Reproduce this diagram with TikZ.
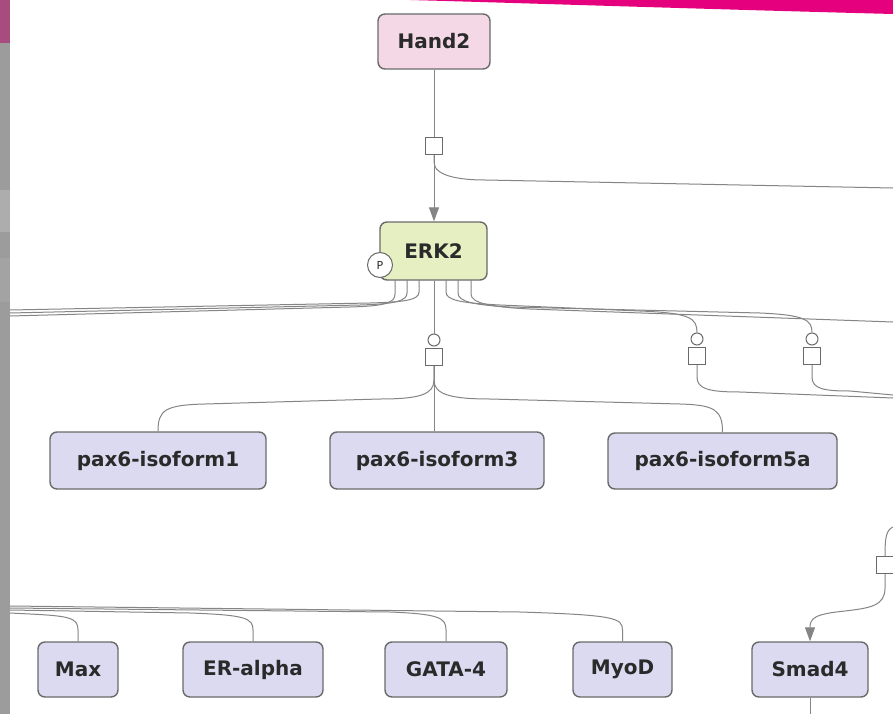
\documentclass[tikz,border=0pt]{standalone}
\usepackage{fontspec}
\setmainfont{DejaVu Sans}
\usetikzlibrary{arrows.meta}
\definecolor{lav}{HTML}{DCDAF0}
\definecolor{pinkf}{HTML}{F5D8E6}
\definecolor{erkf}{HTML}{E6EFC2}
\definecolor{bord}{HTML}{6A6A6A}
\definecolor{linec}{HTML}{858585}
\definecolor{mag}{HTML}{E5007D}
\definecolor{magdull}{HTML}{A84C80}
\definecolor{barg}{HTML}{9C9C9C}
\definecolor{txt}{HTML}{2A2A2A}
\tikzset{
  prot/.style={draw=bord, line width=1.4pt, rounded corners=7pt, fill=lav, text=txt,
    font=\bfseries\fontsize{20}{20}\selectfont, inner sep=0pt},
  proc/.style={draw=bord, line width=1.3pt, fill=white, minimum size=17pt, inner sep=0pt},
  catal/.style={circle, draw=bord, line width=1pt, fill=white, minimum size=12pt, inner sep=0pt},
  conn/.style={draw=linec, line width=1pt},
  arr/.style={-{Triangle[length=14pt,width=10pt]}}
}
\begin{document}
\begin{tikzpicture}[x=1pt,y=-1pt]
\fill[white] (0,0) rectangle (893,714);
\useasboundingbox (0,0) rectangle (893,714);
% screen decoration
\fill[barg] (0,0) rectangle (10,714);
\fill[magdull] (0,0) rectangle (10,43);
\fill[black!32] (0,190) rectangle (10,232);
\fill[black!36] (0,258) rectangle (10,302);
\fill[mag] (410,0) -- (893,0) -- (893,14) .. controls (700,9) and (520,3) .. (410,0) -- cycle;

% nodes
\node[prot, fill=pinkf, minimum width=112pt, minimum height=55pt] (Hand2) at (434,41.5) {Hand2};
\node[prot, fill=erkf, minimum width=107pt, minimum height=58pt] (ERK2) at (433.5,251) {ERK2};
\node[circle, draw=bord, line width=1pt, fill=white, minimum size=25pt, inner sep=0pt,
      text=txt, font=\fontsize{11}{11}\selectfont] (P) at (380,265) {P};
\node[prot, minimum width=216pt, minimum height=57pt] (pax1) at (158,460.5) {pax6-isoform1};
\node[prot, minimum width=214pt, minimum height=57pt] (pax3) at (437,460.5) {pax6-isoform3};
\node[prot, minimum width=229pt, minimum height=56pt] (pax5) at (722.5,461) {pax6-isoform5a};
\node[prot, minimum width=80pt, minimum height=55pt] (Max) at (78,669.5) {Max};
\node[prot, minimum width=140pt, minimum height=55pt] (ERa) at (253,669.5) {ER-alpha};
\node[prot, minimum width=122pt, minimum height=55pt] (GATA) at (446,669.5) {GATA-4};
\node[prot, minimum width=99pt, minimum height=55pt] (MyoD) at (622.5,669.5) {MyoD};
\node[prot, minimum width=116pt, minimum height=55pt] (Smad4) at (810,669.5) {Smad4};

\node[proc] (s1) at (434,146) {};
\node[proc] (s2) at (434,357) {};
\node[proc] (s3) at (697,356) {};
\node[proc] (s4) at (812,356) {};
\node[proc] (s5) at (885,565) {};
\node[catal] (c2) at (434,340) {};
\node[catal] (c3) at (697,339) {};
\node[catal] (c4) at (812,339) {};

% free ends
\coordinate (e1) at (893,188);
\coordinate (eL1) at (10,310);
\coordinate (eL2) at (10,313);
\coordinate (eL3) at (10,316);
\coordinate (eR1) at (893,322);
\coordinate (e3) at (893,398);
\coordinate (e4) at (893,395);
\coordinate (e5) at (893,527);
\coordinate (e6) at (810,714);
\coordinate (b1) at (10,613);
\coordinate (b2) at (10,610);
\coordinate (b3) at (10,608);
\coordinate (b4) at (10,606);

% Hand2 -> ERK2
\draw[conn] (Hand2.south) -- (s1.north);
\draw[conn, arr] (s1.south) -- (s1.south |- ERK2.north);
\draw[conn] (s1.south) -- ++(0,7) .. controls +(0,14) and +(-25,0) .. (485,180) -- (e1);

% ERK2 state stubs to the left
\draw[conn] (419,280) -- (419,292) .. controls (419,300) and (405,302) .. (370,303) -- (eL1);
\draw[conn] (407,280) -- (407,293) .. controls (407,301) and (395,304) .. (360,305) -- (eL2);
\draw[conn] (395,280) -- (395,294) .. controls (395,303) and (385,306) .. (350,307) -- (eL3);
% ERK2 state stubs to the right
\draw[conn] (446,280) -- (446,292) .. controls (446,300) and (460,303) .. (500,305) -- (640,311)
  .. controls (690,313) and (697,318) .. (c3.north);
\draw[conn] (458,280) -- (458,293) .. controls (458,302) and (475,305) .. (510,307) -- (760,313)
  .. controls (805,315) and (812,320) .. (c4.north);
\draw[conn] (471,280) -- (471,294) .. controls (471,303) and (490,307) .. (530,309) -- (eR1);
% ERK2 centre
\draw[conn] (ERK2.south -| c2) -- (c2.north);

% from s2 to the pax6 isoforms
\draw[conn] (s2.south) -- (s2.south |- pax3.north);
\draw[conn] (s2.south) -- ++(0,14) .. controls +(0,14) and +(40,0) .. (380,399) -- (205,404)
  .. controls (165,405) and (158,410) .. (pax1.north);
\draw[conn] (s2.south) -- ++(0,14) .. controls +(0,14) and +(-40,0) .. (490,399) -- (680,404)
  .. controls (715,405) and (722.5,410) .. (pax5.north);
% s3, s4 outputs
\draw[conn] (s3.south) -- ++(0,12) .. controls +(0,12) and +(-30,0) .. (740,392) -- (e3);
\draw[conn] (s4.south) -- ++(0,12) .. controls +(0,12) and +(-25,0) .. (850,391) -- (e4);

% Smad4
\draw[conn] (e5) .. controls (886,530) and (885,538) .. (s5.north);
\draw[conn, arr] (s5.south) -- (885,588) .. controls (885,606) and (870,608) .. (845,611)
  .. controls (815,614) and (810,618) .. (Smad4.north);
\draw[conn] (Smad4.south) -- (e6);

% bottom bundle
\draw[conn] (b1) -- (30,614) .. controls (70,616) and (78,618) .. (78,630) -- (Max.north);
\draw[conn] (b2) -- (190,613) .. controls (245,615) and (253,618) .. (253,630) -- (ERa.north);
\draw[conn] (b3) -- (390,612) .. controls (440,614) and (446,618) .. (446,630) -- (GATA.north);
\draw[conn] (b4) -- (520,612) .. controls (615,615) and (622.5,618) .. (622.5,630) -- (MyoD.north);
\end{tikzpicture}
\end{document}
